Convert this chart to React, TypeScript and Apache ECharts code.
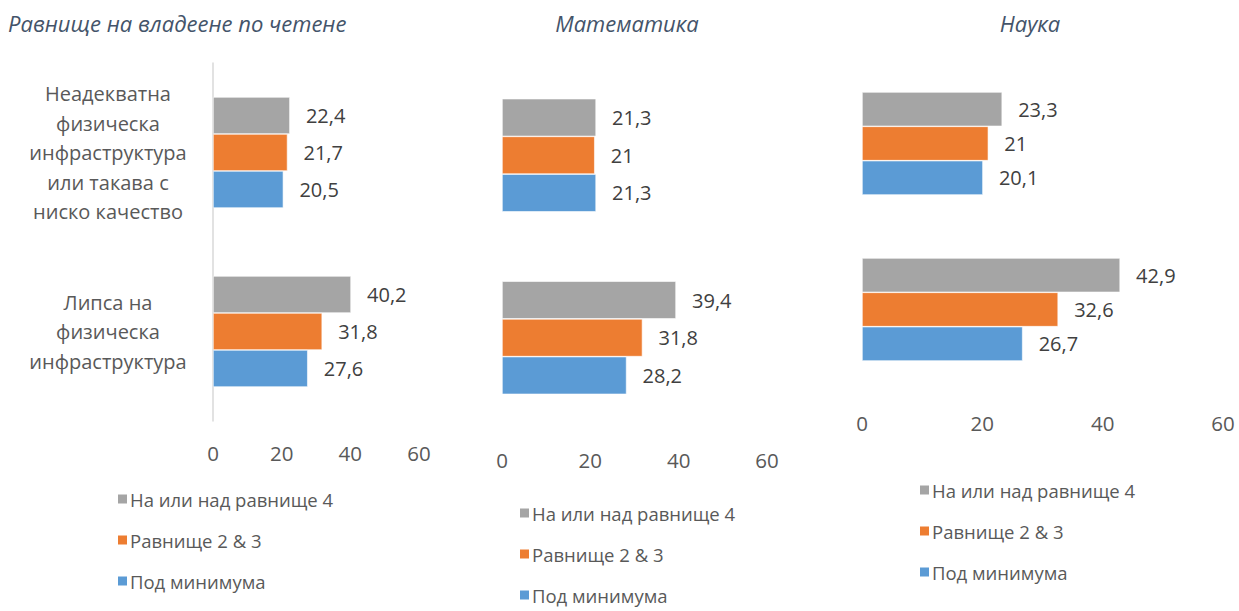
import React, { useEffect, useRef } from "react";
import * as echarts from "echarts";

const categories = [
  "Неадекватна\nфизическа\nинфраструктура\nили такава с\nниско качество",
  "Липса на\nфизическа\nинфраструктура",
];
const panelTitles = ["Равнище на владеене по четене", "Математика", "Наука"];
const seriesNames = ["На или над равнище 4", "Равнище 2 & 3", "Под минимума"];
const seriesColors = ["#A5A5A5", "#ED7D31", "#5B9BD5"];

const readingTop = [22.4, 40.2];
const readingMid = [21.7, 31.8];
const readingLow = [20.5, 27.6];
const mathTop = [21.3, 39.4];
const mathMid = [21, 31.8];
const mathLow = [21.3, 28.2];
const sciTop = [23.3, 42.9];
const sciMid = [21, 32.6];
const sciLow = [20.1, 26.7];

const xMin = 0;
const xMax = 60;
const xInterval = 20;

const panelData = [
  [readingTop, readingMid, readingLow],
  [mathTop, mathMid, mathLow],
  [sciTop, sciMid, sciLow],
];

const FONT = "'Open Sans', sans-serif";

// layout
const grids = [
  { left: 213, top: 63, width: 206, height: 358 },
  { left: 502, top: 64, width: 265, height: 365 },
  { left: 862, top: 60.5, width: 361, height: 332 },
];
const titlePos = [
  { x: 8, align: "left" },
  { x: 627, align: "center" },
  { x: 1030, align: "center" },
];
const legendPos = [
  { left: 116, top: 489 },
  { left: 518, top: 503 },
  { left: 918, top: 480 },
];

export default function App() {
  const ref = useRef<HTMLDivElement>(null);
  useEffect(() => {
    if (!ref.current) return;
    const chart = echarts.init(ref.current, undefined, { renderer: "svg" });
    const series: any[] = [];
    panelData.forEach((panel, p) => {
      panel.forEach((vals, s) => {
        series.push({
          type: "bar",
          name: seriesNames[s],
          xAxisIndex: p,
          yAxisIndex: p,
          data: vals,
          barGap: "0%",
          barCategoryGap: "38%",
          itemStyle: { color: seriesColors[s], borderColor: "#ffffff", borderWidth: 0.6 },
          label: {
            show: true,
            position: "right",
            distance: 16,
            fontSize: 20,
            fontFamily: FONT,
            color: "#404040",
            formatter: (d: any) => String(d.value).replace(".", ","),
          },
        });
      });
    });
    chart.setOption({
      animation: false,
      backgroundColor: "#ffffff",
      grid: grids.map((g) => ({ ...g, containLabel: false })),
      xAxis: grids.map((_, p) => ({
        type: "value",
        gridIndex: p,
        min: xMin,
        max: xMax,
        interval: xInterval,
        axisLine: { show: false },
        axisTick: { show: false },
        splitLine: { show: false },
        axisLabel: {
          margin: p === 0 ? 21 : 20,
          fontSize: 20.5,
          fontFamily: FONT,
          color: "#595959",
        },
      })),
      yAxis: grids.map((_, p) => ({
        type: "category",
        gridIndex: p,
        inverse: true,
        data: categories,
        axisLine: { show: p === 0, lineStyle: { color: "#D9D9D9", width: 1.5 } },
        axisTick: { show: false },
        axisLabel: {
          show: p === 0,
          margin: 105,
          align: "center",
          fontSize: 20,
          lineHeight: 29.5,
          fontFamily: FONT,
          color: "#595959",
        },
      })),
      legend: legendPos.map((l) => ({
        orient: "vertical",
        left: l.left,
        top: l.top,
        data: seriesNames,
        icon: "rect",
        itemWidth: 11,
        itemHeight: 11,
        itemGap: 21,
        padding: 0,
        selectedMode: false,
        textStyle: {
          fontSize: 18.5,
          lineHeight: 20,
          fontFamily: FONT,
          color: "#595959",
          padding: [0, 0, 0, -3],
        },
      })),
      graphic: panelTitles.map((t, i) => ({
        type: "text",
        x: titlePos[i].x,
        y: 23,
        style: {
          text: t,
          align: titlePos[i].align,
          verticalAlign: "middle",
          font: `italic 22px ${FONT}`,
          fill: "#44546A",
        },
      })),
      series,
    });
    return () => chart.dispose();
  }, []);
  return (
    <div
      ref={ref}
      style={{ position: "fixed", left: 0, top: 0, width: 1239, height: 611 }}
    />
  );
}
